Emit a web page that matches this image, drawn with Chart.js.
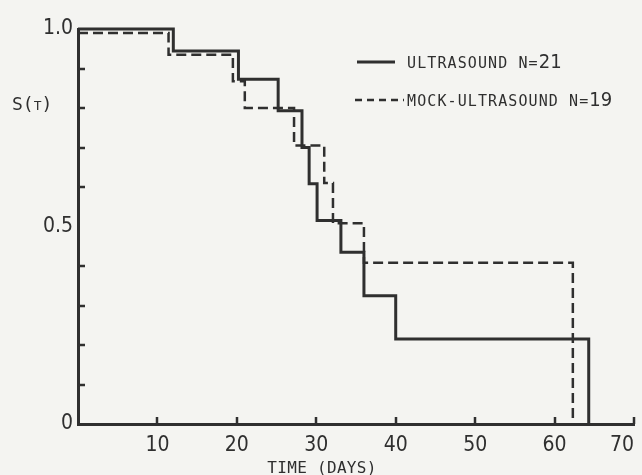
<!DOCTYPE html>
<html lang="en">
<head>
    <meta charset="UTF-8">
    <title>S(T) - ultrasound vs mock-ultrasound</title>
    <style>
        html, body { margin: 0; padding: 0; background: #f4f4f1; }
        canvas { display: block; }
    </style>
</head>
<body>
    <canvas id="km" width="642" height="475"></canvas>

    <script src="https://cdn.jsdelivr.net/npm/chart.js@4.4.1/dist/chart.umd.min.js"></script>
    <script>
        // Survival curves
        const ultraTimes = [0, 12, 20.2, 25.2, 28.2, 29.1, 30.1, 33.1, 36, 40, 64.3];
        const ultraSurv  = [1.0, 0.944, 0.873, 0.793, 0.70, 0.608, 0.515, 0.435, 0.325, 0.215, 0];

        const mockTimes = [0, 11.4, 19.5, 21, 27.2, 31, 32.1, 36, 62.3];
        const mockSurv  = [0.99, 0.935, 0.868, 0.80, 0.705, 0.61, 0.508, 0.408, 0];

        const xTicks = [10, 20, 30, 40, 50, 60, 70];
        const yMinorTicks = [0.1, 0.2, 0.3, 0.4, 0.6, 0.7, 0.8, 0.9];
        const yLabels = { '0': '0', '0.5': '0.5', '1': '1.0' };

        const legendItems = [
            { name: 'ULTRASOUND N=', n: '21', dash: [] },
            { name: 'MOCK-ULTRASOUND N=', n: '19', dash: [7, 5] }
        ];

        const ink = '#2f2f2f';
        const numFont = "'Liberation Sans Narrow', 'DejaVu Sans Condensed', 'Liberation Sans', sans-serif";
        const monoFont = "'DejaVu Sans Mono', 'Liberation Mono', monospace";

        const toPoints = (xs, ys) => xs.map((t, i) => ({ x: t, y: ys[i] }));

        // inward tick marks, axis titles and the legend
        const decor = {
            id: 'decor',
            beforeDraw(chart) {
                const ctx = chart.ctx;
                ctx.save();
                ctx.fillStyle = '#f4f4f1';
                ctx.fillRect(0, 0, chart.width, chart.height);
                ctx.restore();
            },
            afterDraw(chart) {
                const { ctx, scales: { x, y } } = chart;
                ctx.save();
                ctx.strokeStyle = ink;
                ctx.lineWidth = 2.5;
                ctx.beginPath();
                yMinorTicks.forEach(v => {
                    const py = Math.round(y.getPixelForValue(v));
                    ctx.moveTo(x.left, py);
                    ctx.lineTo(x.left + 7, py);
                });
                xTicks.forEach(v => {
                    const px = Math.round(x.getPixelForValue(v));
                    ctx.moveTo(px, y.bottom);
                    ctx.lineTo(px, y.bottom - 7);
                });
                ctx.stroke();

                ctx.fillStyle = ink;
                ctx.textBaseline = 'alphabetic';

                // y title S(T)
                ctx.letterSpacing = '0px';
                ctx.font = '18px ' + monoFont;
                ctx.fillText('S(', 12, 110);
                let w = ctx.measureText('S(').width;
                ctx.font = '13px ' + monoFont;
                ctx.fillText('T', 12 + w, 110);
                let w2 = ctx.measureText('T').width;
                ctx.font = '18px ' + monoFont;
                ctx.fillText(')', 12 + w + w2, 110);

                // x title
                ctx.font = '16px ' + monoFont;
                ctx.letterSpacing = '0.3px';
                ctx.textAlign = 'center';
                ctx.fillText('TIME (DAYS)', 322, 473);
                ctx.textAlign = 'left';

                // legend
                legendItems.forEach((item, i) => {
                    const ly = 62 + i * 38;
                    ctx.setLineDash(item.dash);
                    ctx.lineWidth = item.dash.length ? 2.5 : 3;
                    ctx.beginPath();
                    ctx.moveTo(item.dash.length ? 355 : 357, ly);
                    ctx.lineTo(item.dash.length ? 404 : 395, ly);
                    ctx.stroke();
                    ctx.setLineDash([]);
                    ctx.font = '15px ' + monoFont;
                    ctx.letterSpacing = '1.1px';
                    ctx.fillText(item.name, 407, ly + 6);
                    const tw = ctx.measureText(item.name).width;
                    ctx.font = '20px ' + numFont;
                    ctx.letterSpacing = '0px';
                    ctx.fillText(item.n, 407 + tw, ly + 6);
                });
                ctx.restore();
            }
        };

        new Chart(document.getElementById('km'), {
            type: 'line',
            data: {
                datasets: [
                    {
                        label: 'ULTRASOUND N=21',
                        data: toPoints(ultraTimes, ultraSurv),
                        borderColor: ink,
                        borderWidth: 3,
                        stepped: true,
                        pointRadius: 0,
                        fill: false,
                        clip: false
                    },
                    {
                        label: 'MOCK-ULTRASOUND N=19',
                        data: toPoints(mockTimes, mockSurv),
                        borderColor: ink,
                        borderWidth: 2.5,
                        borderDash: [10, 5],
                        stepped: true,
                        pointRadius: 0,
                        fill: false,
                        clip: false
                    }
                ]
            },
            options: {
                responsive: false,
                animation: false,
                devicePixelRatio: 1,
                layout: { padding: { top: 29, right: 8, left: 0, bottom: 0 } },
                plugins: {
                    legend: { display: false },
                    tooltip: { enabled: false }
                },
                scales: {
                    x: {
                        type: 'linear',
                        min: 0,
                        max: 70,
                        grid: { display: false, drawTicks: false },
                        border: { display: true, color: ink, width: 3 },
                        ticks: {
                            stepSize: 10,
                            autoSkip: false,
                            maxRotation: 0,
                            align: 'inner',
                            padding: 9,
                            color: ink,
                            font: { family: numFont, size: 21 },
                            callback: v => (v === 0 ? '' : v)
                        },
                        afterFit(scale) {
                            scale.height = 51;
                            scale.paddingLeft = 0;
                            scale.paddingRight = 0;
                        }
                    },
                    y: {
                        min: 0,
                        max: 1,
                        grid: { display: false, drawTicks: false },
                        border: { display: true, color: ink, width: 3 },
                        ticks: {
                            stepSize: 0.1,
                            autoSkip: false,
                            padding: 5,
                            color: ink,
                            font: { family: numFont, size: 21 },
                            callback: v => {
                                const key = String(Math.round(v * 10) / 10);
                                return yLabels[key] !== undefined ? yLabels[key] : '';
                            }
                        },
                        afterFit(scale) {
                            scale.width = 78;
                            scale.paddingTop = 0;
                            scale.paddingBottom = 0;
                        }
                    }
                }
            },
            plugins: [decor]
        });
    </script>
</body>
</html>
